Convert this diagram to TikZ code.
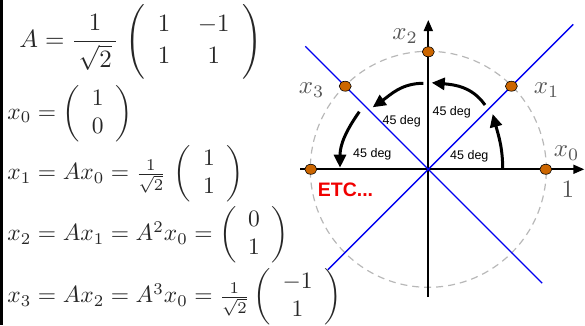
\documentclass[tikz,border=0pt]{standalone}
\usepackage{amsmath}
\usepackage{fontspec}
\newfontfamily\arialfont{Liberation Sans}
\usetikzlibrary{arrows.meta,shapes.geometric}
\definecolor{rotink}{HTML}{262626}
\definecolor{rotmute}{HTML}{555555}
\definecolor{rotorange}{HTML}{CC6600}
\definecolor{rotline}{HTML}{0000F0}
\definecolor{rotcirc}{HTML}{B8B8B8}
\definecolor{rotred}{HTML}{F00000}
\tikzset{
  eqn/.style={anchor=west, inner sep=0pt, scale=2.35, text=rotink},
  lab/.style={inner sep=0pt, scale=2.5, text=rotmute},
  deg/.style={inner sep=0pt, font=\arialfont\fontsize{12.5}{14}\selectfont},
  dot/.style={ellipse, draw=black, line width=0.6pt, fill=rotorange, minimum width=12pt, minimum height=10pt, inner sep=0pt},
  axis/.style={-{Triangle[length=11pt,width=9pt]}, line width=1.8pt},
  diag/.style={rotline, line width=1.4pt},
  turn/.style={-{Triangle[length=13pt,width=12pt]}, line width=3pt},
}
\begin{document}
\begin{tikzpicture}[x=1pt,y=1pt]
  \useasboundingbox (0,0) rectangle (585,325);
  \fill[black] (0,0) rectangle (2.6,325);
  \node[eqn, scale=1.06] (eqa) at (19,283.5) {$A=\dfrac{1}{\,\sqrt{2}\,}\;\Bigg(\begin{array}{c@{\hspace{11pt}}c}1&-1\\[1pt]1&1\end{array}\Bigg)$};
  \node[eqn] (eq0) at (7,211.5) {$x_0=\left(\begin{array}{c}1\\0\end{array}\right)$};
  \node[eqn] (eq1) at (7,151) {$x_1=Ax_0=\frac{1}{\sqrt{2}}\,\left(\begin{array}{c}1\\1\end{array}\right)$};
  \node[eqn] (eq2) at (7,90) {$x_2=Ax_1=A^2x_0=\left(\begin{array}{c}0\\1\end{array}\right)$};
  \node[eqn] (eq3) at (7,28) {$x_3=Ax_2=A^3x_0=\frac{1}{\sqrt{2}}\left(\begin{array}{c}-1\\1\end{array}\right)$};
  \begin{scope}[shift={(428.3,155.7)}]
    \draw[rotcirc, line width=1.2pt, dash pattern=on 7pt off 5pt] (0,0) circle (118);
    \coordinate (xl) at (-128.3,0); \coordinate (xr) at (156,0);
    \coordinate (yb) at (0,-127.7); \coordinate (yt) at (0,149.3);
    \coordinate (d1a) at (225:142); \coordinate (d1b) at (45:205);
    \coordinate (d2a) at (135:174); \coordinate (d2b) at (-45:161);
    \draw[axis] (xl) -- (xr);
    \draw[axis] (yb) -- (yt);
    \draw[diag] (d1a) -- (d1b);
    \draw[diag] (d2a) -- (d2b);
    \foreach \a/\n in {0/p0,45/p1,90/p2,135/p3,180/p4} \node[dot] (\n) at (\a:117.5) {};
    \node[lab] (l0) at (138.4,16.3) {$x_0$};
    \node[lab] (l1) at (118.4,79.3) {$x_1$};
    \node[lab] (l2) at (-23.3,133.5) {$x_2$};
    \node[lab] (l3) at (-116.6,79.3) {$x_3$};
    \node[lab] (lone) at (139.5,-20.5) {$1$};
    \coordinate (a1s) at (74.4,0); \coordinate (a1e) at (64.4,55.3);
    \coordinate (a2s) at (56.7,64.3); \coordinate (a2e) at (3.4,86.6);
    \coordinate (a3s) at (-5,86); \coordinate (a3e) at (-55.6,62);
    \coordinate (a4s) at (-69,57.6); \coordinate (a4e) at (-88.3,1.6);
    \draw[turn] (a1s) to[out=90, in=-75] (a1e);
    \draw[turn] (a2s) to[out=125, in=-5] (a2e);
    \draw[turn] (a3s) to[out=180, in=35] (a3e);
    \draw[turn] (a4s) to[out=235, in=90] (a4e);
    \node[deg] (g1) at (41,13.3) {45 deg};
    \node[deg] (g2) at (23.4,57) {45 deg};
    \node[deg] (g3) at (-26.6,47.6) {45 deg};
    \node[deg] (g4) at (-56,15.3) {45 deg};
    \node[anchor=west, inner sep=0pt, text=rotred, font=\arialfont\bfseries\fontsize{19.5}{22}\selectfont] (etc) at (-110.6,-20) {ETC...};
  \end{scope}
\end{tikzpicture}
\end{document}
